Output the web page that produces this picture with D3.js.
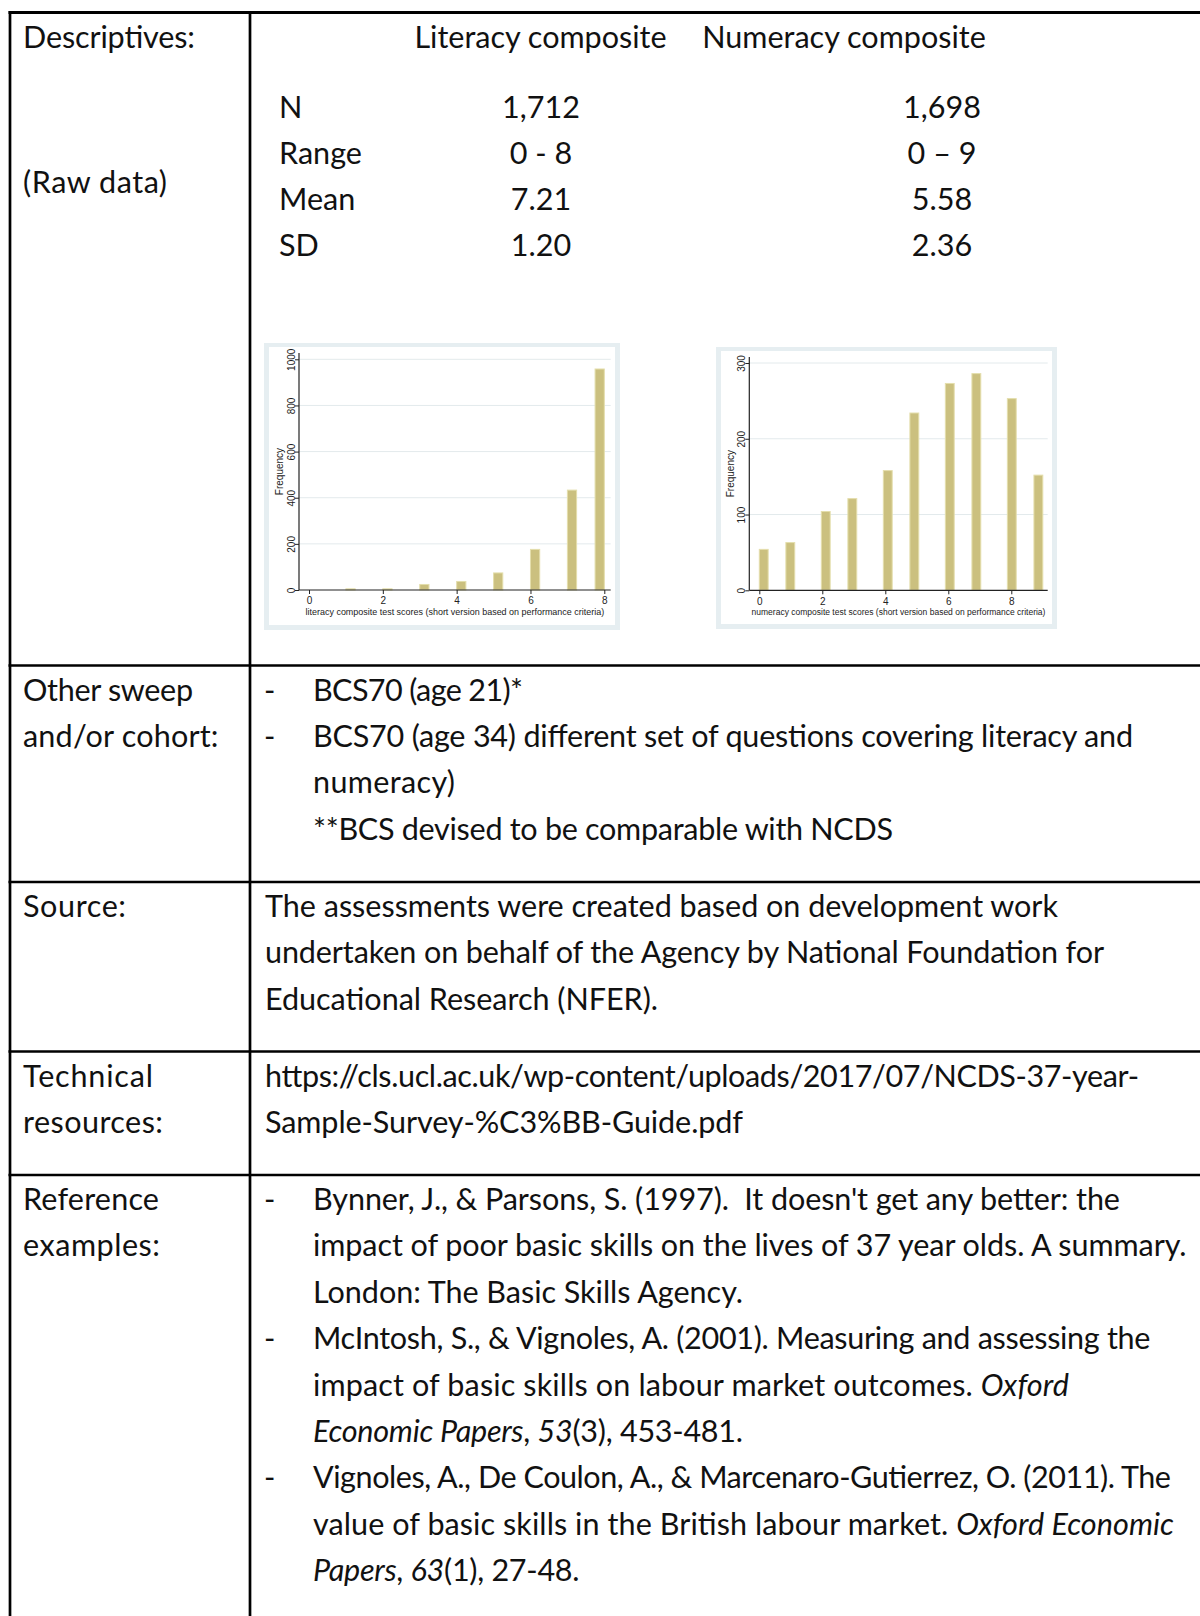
<!DOCTYPE html>
<html>
<head>
<meta charset="utf-8">
<script src="https://cdn.jsdelivr.net/npm/d3@7"></script>
<style>
body { margin: 0; background: #fff; }
svg { display: block; }
</style>
</head>
<body>
<svg id="page" width="1200" height="1616"></svg>
<script>
// ---- descriptives table
var statLabels = ["N", "Range", "Mean", "SD"];
var literacyStats = ["1,712", "0 - 8", "7.21", "1.20"];
var numeracyStats = ["1,698", "0 \u2013 9", "5.58", "2.36"];
var colHeads = ["Literacy composite", "Numeracy composite"];

// ---- histograms (frequency per test score)
var litScores = [0, 1, 2, 3, 4, 5, 6, 7, 8];
var litFreq = [0, 5, 5, 24, 37, 74, 176, 433, 958];
var litYTicks = [0, 200, 400, 600, 800, 1000];
var litXTicks = [0, 2, 4, 6, 8];
var litTitle = "literacy composite test scores (short version based on performance criteria)";

var numScores = [0, 1, 2, 3, 4, 5, 6, 7, 8, 9];
var numFreq = [54, 63, 104, 121, 158, 234, 273, 286, 253, 152];
var numYTicks = [0, 100, 200, 300];
var numXTicks = [0, 2, 4, 6, 8];
var numTitle = "numeracy composite test scores (short version based on performance criteria)";

// ---- row labels and cell text. "- " at start = bullet line, _text_ = italic
var rowLabels = [
    ["Descriptives:"],
    ["Other sweep", "and/or cohort:"],
    ["Source:"],
    ["Technical", "resources:"],
    ["Reference", "examples:"]
];
var sweepLines = [
    "- BCS70 (age 21)*",
    "- BCS70 (age 34) different set of questions covering literacy and",
    "numeracy)",
    "**BCS devised to be comparable with NCDS"
];
var sourceLines = [
    "The assessments were created based on development work",
    "undertaken on behalf of the Agency by National Foundation for",
    "Educational Research (NFER)."
];
var techLines = [
    "https://cls.ucl.ac.uk/wp-content/uploads/2017/07/NCDS-37-year-",
    "Sample-Survey-%C3%BB-Guide.pdf"
];
var refLines = [
    "- Bynner, J., & Parsons, S. (1997).  It doesn't get any better: the",
    "impact of poor basic skills on the lives of 37 year olds. A summary.",
    "London: The Basic Skills Agency.",
    "- McIntosh, S., & Vignoles, A. (2001). Measuring and assessing the",
    "impact of basic skills on labour market outcomes. _Oxford_",
    "_Economic Papers_, _53_(3), 453-481.",
    "- Vignoles, A., De Coulon, A., & Marcenaro-Gutierrez, O. (2011). The",
    "value of basic skills in the British labour market. _Oxford Economic_",
    "_Papers_, _63_(1), 27-48."
];

// right edge of each line in the original layout, so the substitute font wraps the same
var labelEnds = [[195], [193, 218.5], [126], [153, 163], [159, 160]];
var rawEnd = 167;
var sweepEnds = [523, 1133, 455, 893];
var sourceEnds = [1058, 1104, 658];
var techEnds = [1139, 743];
var refEnds = [1120, 1186.5, 743, 1150.5, 1069, 743, 1171, 1174, 579.5];

var svg = d3.select("#page");
var FONT = "Lato, 'Source Sans Pro', sans-serif";
var CHART_FONT = "'Liberation Sans', Arial, sans-serif";
var ink = "#111";
var lineH = 46.4;
var firstBase = 35;

var probe = svg.append("text").attr("font-family", FONT).attr("font-size", 100).text(sourceLines[0]);
var fs = 100 * 794 / probe.node().getComputedTextLength();
probe.remove();

function addText(x, y, str, anchor, end) {
    var t = svg.append("text")
        .attr("x", x).attr("y", y)
        .attr("font-family", FONT).attr("font-size", fs)
        .attr("fill", ink)
        .attr("text-anchor", anchor || "start")
        .style("white-space", "pre");
    var parts = str.split("_");
    parts.forEach(function(p, i){
        if(p === "") return;
        t.append("tspan").attr("font-style", i % 2 ? "italic" : "normal").text(p);
    });
    if(end){
        t.attr("textLength", end - x).attr("lengthAdjust", "spacing");
    }
    return t;
}

function cellLines(lines, ends, top, dashed) {
    var y = top + firstBase;
    lines.forEach(function(l, i){
        if(dashed){
            if(l.indexOf("- ") === 0){
                addText(264, y, "-");
                l = l.slice(2);
            }
            addText(313, y, l, "start", ends[i]);
        } else {
            addText(265, y, l, "start", ends[i]);
        }
        y += lineH;
    });
}

// ---- table grid
var rowTops = [12.5, 665.5, 882, 1051.5, 1175];
var grid = svg.append("g").attr("stroke", "#000");
rowTops.forEach(function(t, i){
    grid.append("line").attr("x1", 8.5).attr("x2", 1200).attr("y1", t).attr("y2", t)
        .attr("stroke-width", i === 0 ? 3 : 2.7);
});
grid.append("line").attr("x1", 10).attr("x2", 10).attr("y1", 11).attr("y2", 1616).attr("stroke-width", 2.7);
grid.append("line").attr("x1", 250).attr("x2", 250).attr("y1", 11).attr("y2", 1616).attr("stroke-width", 2.7);

// ---- left column labels
rowLabels.forEach(function(lab, r){
    lab.forEach(function(s, i){
        addText(23, rowTops[r] + firstBase + i * lineH, s, "start", labelEnds[r][i]);
    });
});
addText(23, 193, "(Raw data)", "start", rawEnd);

// ---- descriptives block
addText(540.5, rowTops[0] + firstBase, colHeads[0], "middle");
addText(844, rowTops[0] + firstBase, colHeads[1], "middle");
statLabels.forEach(function(s, i){
    var y = 118 + i * 45.9;
    addText(279, y, s);
    addText(541, y, literacyStats[i], "middle");
    addText(942, y, numeracyStats[i], "middle");
});

cellLines(sweepLines, sweepEnds, rowTops[1], true);
cellLines(sourceLines, sourceEnds, rowTops[2], false);
cellLines(techLines, techEnds, rowTops[3], false);
cellLines(refLines, refEnds, rowTops[4], true);

// ---- stata-like histogram
function histogram(cfg) {
    var g = svg.append("g");
    g.append("rect").attr("x", cfg.box[0]).attr("y", cfg.box[1])
        .attr("width", cfg.box[2] - cfg.box[0]).attr("height", cfg.box[3] - cfg.box[1])
        .attr("fill", "#e6eef1");
    g.append("rect").attr("x", cfg.inner[0]).attr("y", cfg.inner[1])
        .attr("width", cfg.inner[2] - cfg.inner[0]).attr("height", cfg.inner[3] - cfg.inner[1])
        .attr("fill", "#fff");

    var x = d3.scaleLinear().domain([0, cfg.xMax]).range(cfg.xRange);
    var y = d3.scaleLinear().domain([0, cfg.yMax]).range(cfg.yRange);
    var left = cfg.axisX, bottom = cfg.yRange[0];

    g.selectAll(".grid").data(cfg.yTicks.filter(function(d){ return d > 0; }))
        .join("line")
        .attr("x1", left).attr("x2", cfg.plotRight)
        .attr("y1", function(d){ return y(d); }).attr("y2", function(d){ return y(d); })
        .attr("stroke", "#e3eaec").attr("stroke-width", 1);

    // stata default bins: min(sqrt(N), 10*log10(N)) over the score range
    var n = d3.sum(cfg.freq);
    var nb = Math.floor(Math.min(Math.sqrt(n), 10 * Math.log10(n)));
    var w = cfg.xMax / nb;
    var bins = cfg.scores.map(function(s, i){
        var k = Math.min(Math.floor(s / w + 1e-9), nb - 1);
        return {x0: k * w, x1: (k + 1) * w, f: cfg.freq[i]};
    }).filter(function(d){ return d.f > 0; });

    g.selectAll(".bar").data(bins).join("rect")
        .attr("x", function(d){ return x(d.x0); })
        .attr("width", function(d){ return x(d.x1) - x(d.x0); })
        .attr("y", function(d){ return y(d.f); })
        .attr("height", function(d){ return y(0) - y(d.f); })
        .attr("fill", "#cbc07f")
        .attr("stroke", "#e4deac").attr("stroke-width", 1);

    var ya = g.append("g").attr("transform", "translate(" + left + ",0)")
        .call(d3.axisLeft(y).tickValues(cfg.yTicks).tickFormat(d3.format("d")).tickSize(4).tickSizeOuter(0));
    ya.select(".domain").remove();
    ya.selectAll("line").attr("stroke", "#222");
    ya.selectAll("text")
        .attr("transform", "rotate(-90)")
        .attr("x", 0).attr("y", -4.5).attr("dy", 0)
        .attr("text-anchor", "middle")
        .attr("font-family", CHART_FONT).attr("font-size", 10).attr("fill", "#222");

    var xa = g.append("g").attr("transform", "translate(0," + bottom + ")")
        .call(d3.axisBottom(x).tickValues(cfg.xTicks).tickFormat(d3.format("d")).tickSize(4).tickSizeOuter(0));
    xa.select(".domain").remove();
    xa.selectAll("line").attr("stroke", "#222");
    xa.selectAll("text").attr("y", cfg.xLabelOff).attr("dy", 0)
        .attr("font-family", CHART_FONT).attr("font-size", 10).attr("fill", "#222");

    g.append("line").attr("x1", left).attr("x2", left).attr("y1", cfg.plotTop).attr("y2", bottom)
        .attr("stroke", "#222").attr("stroke-width", 1.2);
    g.append("line").attr("x1", left).attr("x2", cfg.plotRight).attr("y1", bottom).attr("y2", bottom)
        .attr("stroke", "#222").attr("stroke-width", 1.2);

    g.append("text")
        .attr("transform", "translate(" + cfg.freqX + "," + ((cfg.plotTop + bottom) / 2) + ") rotate(-90)")
        .attr("text-anchor", "middle")
        .attr("font-family", CHART_FONT).attr("font-size", 10).attr("fill", "#222")
        .text("Frequency");

    var tt = g.append("text")
        .attr("x", (left + cfg.plotRight) / 2).attr("y", cfg.titleY)
        .attr("text-anchor", "middle")
        .attr("font-family", CHART_FONT).attr("font-size", 10).attr("fill", "#222")
        .text(cfg.title);
    tt.attr("font-size", 10 * cfg.titleW / tt.node().getComputedTextLength());
}

histogram({
    scores: litScores, freq: litFreq, xMax: 8, yMax: 1000,
    yTicks: litYTicks, xTicks: litXTicks, title: litTitle,
    box: [264, 343, 620, 630], inner: [269, 347, 615, 625],
    xRange: [309, 604.3], yRange: [590, 359.3],
    axisX: 299, plotTop: 353, plotRight: 610.7,
    xLabelOff: 14, freqX: 283, titleY: 615, titleW: 299
});

histogram({
    scores: numScores, freq: numFreq, xMax: 9, yMax: 300,
    yTicks: numYTicks, xTicks: numXTicks, title: numTitle,
    box: [716, 347, 1057, 629], inner: [721, 351, 1052, 624],
    xRange: [759.3, 1042.8], yRange: [590.3, 363],
    axisX: 749.3, plotTop: 357, plotRight: 1047.7,
    xLabelOff: 15, freqX: 734, titleY: 614.5, titleW: 294
});
</script>
</body>
</html>
